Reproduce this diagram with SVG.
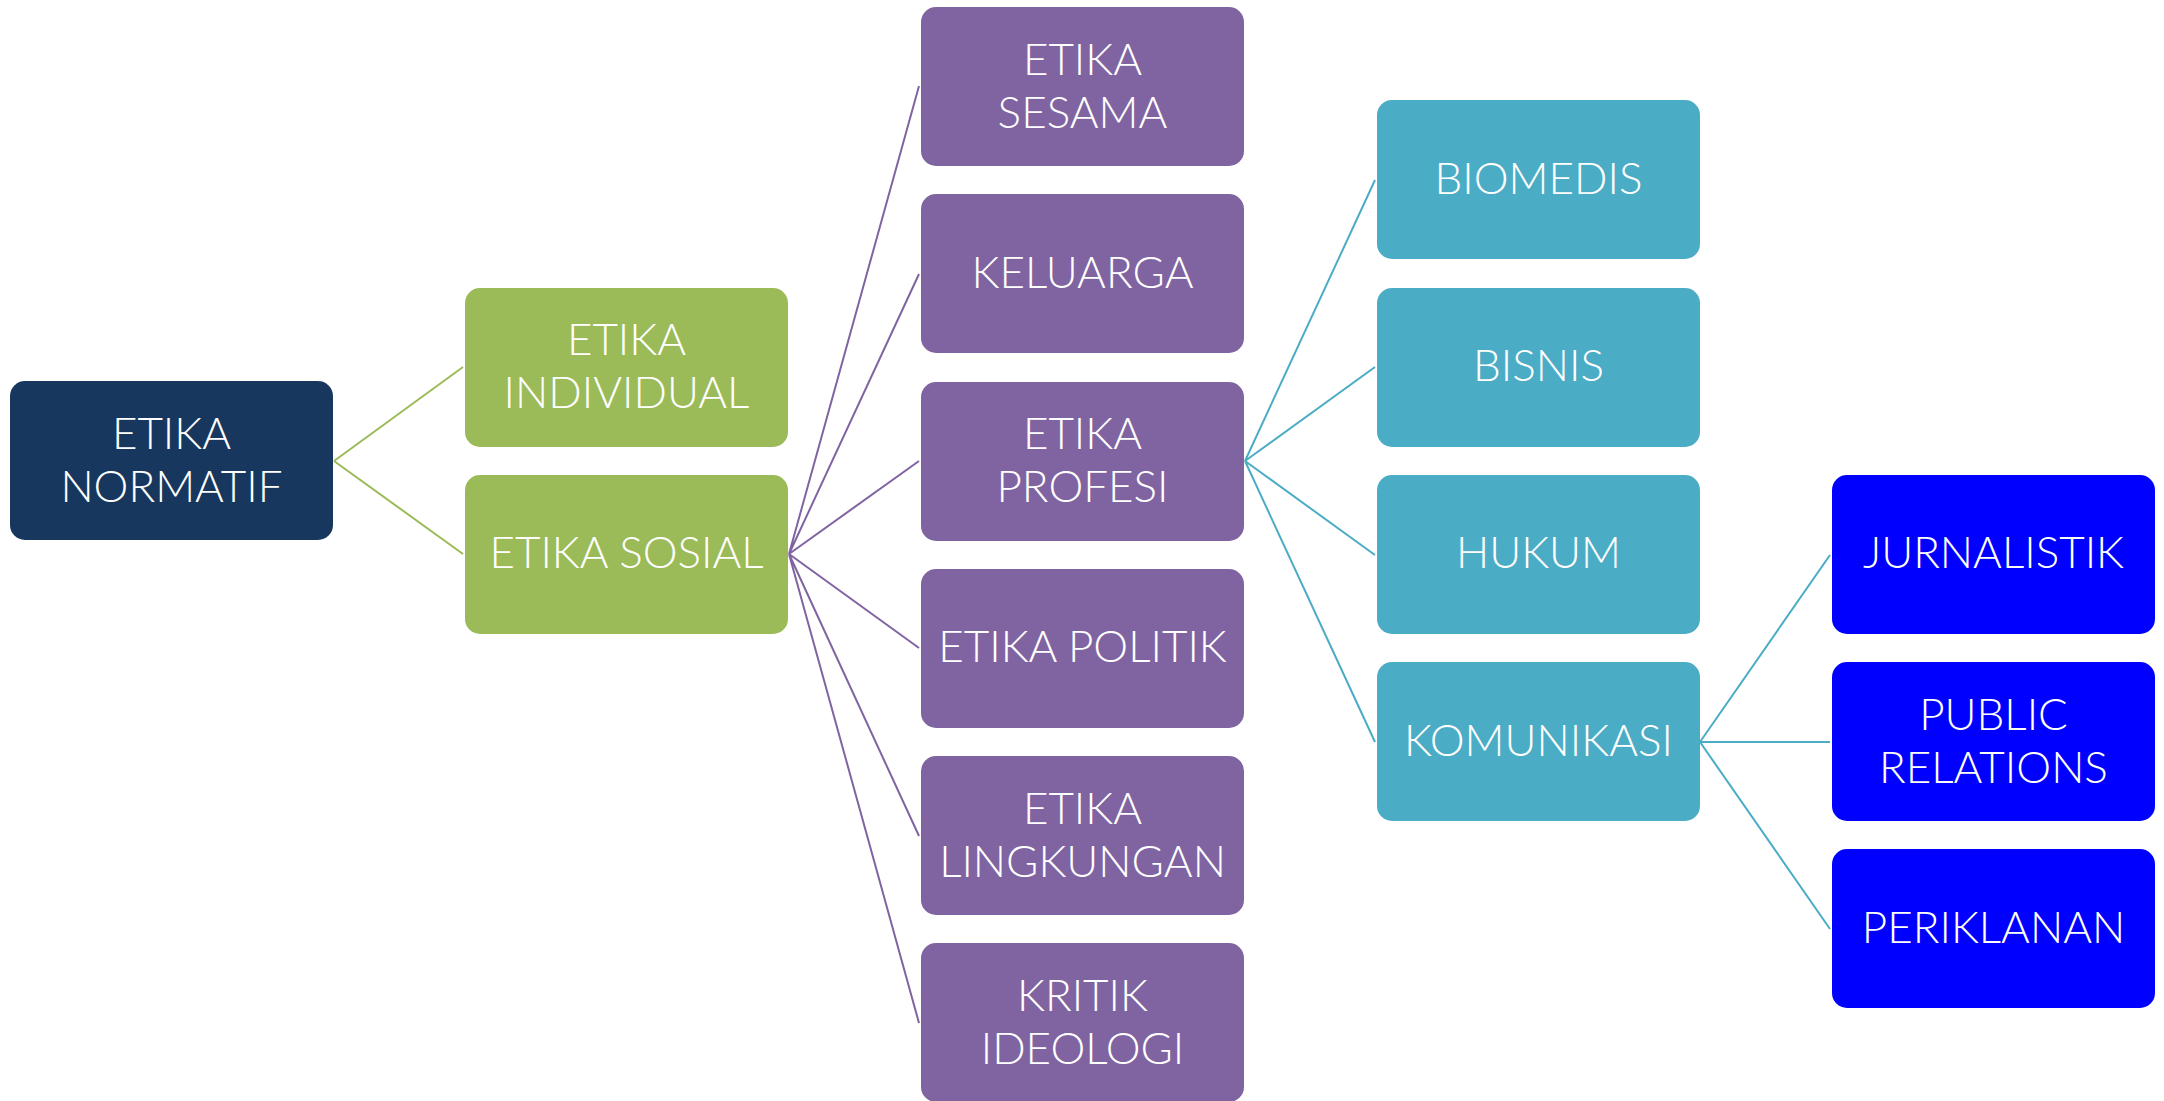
<svg xmlns="http://www.w3.org/2000/svg" width="2164" height="1101" viewBox="0 0 2164 1101">
<style>
text{font-family:Lato,"Open Sans","Liberation Sans",sans-serif;font-size:44px;font-weight:300;fill:#fff;text-anchor:middle}
.n rect{rx:15;ry:15;width:323px;height:159px}
.l{fill:none;stroke-width:2}
</style>
<rect width="2164" height="1101" fill="#fff"/>
<g id="connectors">
<g class="l" stroke="#9BBB59">
<path d="M334 461L463 367M334 461L463 554"/>
</g>
<g class="l" stroke="#8064A2">
<path d="M789 554L919 86M789 554L919 274M789 554L919 461M789 554L919 648M789 554L919 836M789 554L919 1023"/>
</g>
<g class="l" stroke="#4BACC6">
<path d="M1245 461L1375 180M1245 461L1375 367M1245 461L1375 555M1245 461L1375 742M1700 742L1830 555M1700 742L1830 742M1700 742L1830 929"/>
</g>
</g>
<g id="n-normatif" class="n"><rect x="10" y="381" fill="#17375E"/><text x="171.5" y="449">ETIKA</text><text x="171.5" y="502">NORMATIF</text></g>
<g id="n-individual" class="n"><rect x="465" y="288" fill="#9BBB59"/><text x="626.5" y="355">ETIKA</text><text x="626.5" y="408">INDIVIDUAL</text></g>
<g id="n-sosial" class="n"><rect x="465" y="475" fill="#9BBB59"/><text x="626.5" y="568">ETIKA SOSIAL</text></g>
<g id="n-sesama" class="n"><rect x="921" y="7" fill="#8064A2"/><text x="1082.5" y="75">ETIKA</text><text x="1082.5" y="128">SESAMA</text></g>
<g id="n-keluarga" class="n"><rect x="921" y="194" fill="#8064A2"/><text x="1082.5" y="288">KELUARGA</text></g>
<g id="n-profesi" class="n"><rect x="921" y="382" fill="#8064A2"/><text x="1082.5" y="449">ETIKA</text><text x="1082.5" y="502">PROFESI</text></g>
<g id="n-politik" class="n"><rect x="921" y="569" fill="#8064A2"/><text x="1082.5" y="662">ETIKA POLITIK</text></g>
<g id="n-lingkungan" class="n"><rect x="921" y="756" fill="#8064A2"/><text x="1082.5" y="824">ETIKA</text><text x="1082.5" y="877">LINGKUNGAN</text></g>
<g id="n-ideologi" class="n"><rect x="921" y="943" fill="#8064A2"/><text x="1082.5" y="1011">KRITIK</text><text x="1082.5" y="1064">IDEOLOGI</text></g>
<g id="n-biomedis" class="n"><rect x="1377" y="100" fill="#4BACC6"/><text x="1538.5" y="194">BIOMEDIS</text></g>
<g id="n-bisnis" class="n"><rect x="1377" y="288" fill="#4BACC6"/><text x="1538.5" y="381">BISNIS</text></g>
<g id="n-hukum" class="n"><rect x="1377" y="475" fill="#4BACC6"/><text x="1538.5" y="568">HUKUM</text></g>
<g id="n-komunikasi" class="n"><rect x="1377" y="662" fill="#4BACC6"/><text x="1538.5" y="756">KOMUNIKASI</text></g>
<g id="n-jurnalistik" class="n"><rect x="1832" y="475" fill="#0000FF"/><text x="1993.5" y="568">JURNALISTIK</text></g>
<g id="n-pr" class="n"><rect x="1832" y="662" fill="#0000FF"/><text x="1993.5" y="730">PUBLIC</text><text x="1993.5" y="783">RELATIONS</text></g>
<g id="n-periklanan" class="n"><rect x="1832" y="849" fill="#0000FF"/><text x="1993.5" y="943">PERIKLANAN</text></g>
</svg>
